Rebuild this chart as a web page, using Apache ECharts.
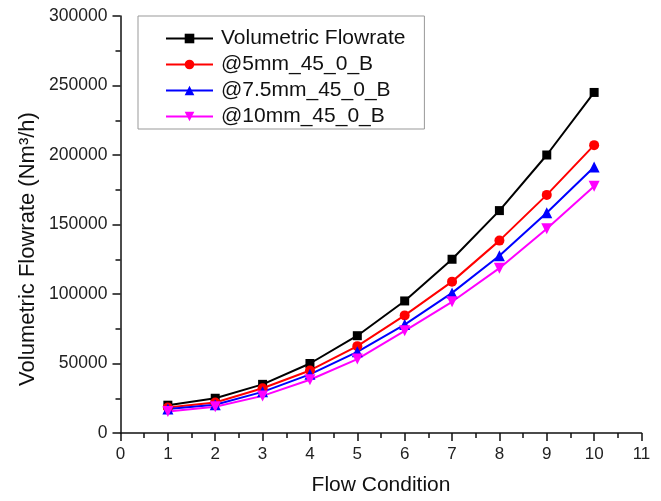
<!DOCTYPE html>
<html>
<head>
<meta charset="utf-8">
<script src="https://cdn.jsdelivr.net/npm/echarts@6/dist/echarts.min.js"></script>
<style>
html,body{margin:0;padding:0;background:#fff;}
#chart{width:661px;height:501px;}
</style>
</head>
<body>
<div id="chart"></div>
<script>
var flowCondition = [1, 2, 3, 4, 5, 6, 7, 8, 9, 10];
var volumetric = [20000, 25000, 35000, 50000, 70000, 95000, 125000, 160000, 200000, 245000];
var mm5 = [18400, 21900, 32200, 45000, 62500, 84600, 108900, 138400, 171300, 207100];
var mm75 = [17200, 20300, 29600, 42200, 58400, 78000, 100800, 127500, 158500, 191300];
var mm10 = [15500, 18900, 26700, 38300, 53200, 73500, 94400, 118600, 147000, 177500];
var seriesNames = ['Volumetric Flowrate', '@5mm_45_0_B', '@7.5mm_45_0_B', '@10mm_45_0_B'];
var xTicks = [0, 11, 1];
var yTicks = [0, 300000, 50000];

function pairs(vals) { return flowCondition.map(function (x, i) { return [x, vals[i]]; }); }

var FONT = 'Liberation Sans, Arial, sans-serif';
var chart = echarts.init(document.getElementById('chart'));
chart.setOption({
  animation: false,
  backgroundColor: '#fff',
  grid: { left: 120.5, right: 19.5, top: 16, bottom: 65.5, containLabel: false },
  legend: {
    left: 138, top: 16,
    orient: 'vertical',
    data: seriesNames,
    itemWidth: 47, itemHeight: 12, itemGap: 5,
    padding: [12, 19, 2, 27],
    borderColor: '#999', borderWidth: 1,
    textStyle: { fontFamily: FONT, fontSize: 21, color: '#111', padding: [0, 0, 0, 3] }
  },
  xAxis: {
    type: 'value', min: xTicks[0], max: xTicks[1], interval: xTicks[2],
    name: 'Flow Condition', nameLocation: 'middle', nameGap: 42,
    nameTextStyle: { fontFamily: FONT, fontSize: 21, color: '#111' },
    axisLine: { show: true, onZero: false, lineStyle: { color: '#111', width: 1.5 } },
    axisTick: { show: true, inside: false, length: 8, lineStyle: { color: '#111', width: 1.5 } },
    minorTick: { show: true, splitNumber: 2, length: 5, lineStyle: { color: '#111', width: 1.5 } },
    axisLabel: { fontFamily: FONT, fontSize: 17, color: '#222', margin: 13 },
    splitLine: { show: false }
  },
  yAxis: {
    type: 'value', min: yTicks[0], max: yTicks[1], interval: yTicks[2],
    axisLine: { show: true, onZero: false, lineStyle: { color: '#111', width: 1.5 } },
    axisTick: { show: true, inside: false, length: 8, lineStyle: { color: '#111', width: 1.5 } },
    minorTick: { show: true, splitNumber: 2, length: 5, lineStyle: { color: '#111', width: 1.5 } },
    axisLabel: { fontFamily: FONT, fontSize: 17.5, color: '#222', margin: 13,
                 formatter: function (v) { return String(v); } },
    splitLine: { show: false }
  },
  graphic: [{
    type: 'text', x: 28, y: 249, rotation: Math.PI / 2,
    style: { text: 'Volumetric Flowrate (Nm³/h)', fontFamily: FONT, fontSize: 22, fill: '#111',
             align: 'center', verticalAlign: 'middle' }
  }],
  series: [
    { name: seriesNames[0], type: 'line', data: pairs(volumetric), symbol: 'rect', symbolSize: 9,
      itemStyle: { color: '#000' }, lineStyle: { color: '#000', width: 2 } },
    { name: seriesNames[1], type: 'line', data: pairs(mm5), symbol: 'circle', symbolSize: 10,
      itemStyle: { color: '#ff0000' }, lineStyle: { color: '#ff0000', width: 2 } },
    { name: seriesNames[2], type: 'line', data: pairs(mm75), symbol: 'triangle', symbolSize: 11,
      itemStyle: { color: '#0000ff' }, lineStyle: { color: '#0000ff', width: 2 } },
    { name: seriesNames[3], type: 'line', data: pairs(mm10), symbol: 'triangle', symbolSize: 11, symbolRotate: 180,
      itemStyle: { color: '#ff00ff' }, lineStyle: { color: '#ff00ff', width: 2 } }
  ]
});
</script>
</body>
</html>
